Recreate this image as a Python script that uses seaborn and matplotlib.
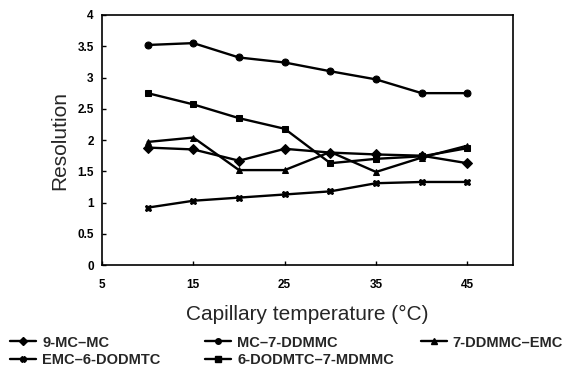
import matplotlib
matplotlib.use("Agg")
import matplotlib.pyplot as plt
import seaborn as sns
import pandas as pd
from matplotlib.lines import Line2D

temperature = [10, 15, 20, 25, 30, 35, 40, 45]
series_names = ["9-MC–MC", "MC–7-DDMMC", "7-DDMMC–EMC", "EMC–6-DODMTC", "6-DODMTC–7-MDMMC"]
mc9_mc = [1.88, 1.85, 1.67, 1.86, 1.80, 1.77, 1.75, 1.63]
mc_7ddmmc = [3.52, 3.55, 3.32, 3.24, 3.10, 2.97, 2.75, 2.75]
ddmmc7_emc = [1.97, 2.04, 1.52, 1.52, 1.81, 1.49, 1.72, 1.91]
emc_6dodmtc = [0.92, 1.03, 1.08, 1.13, 1.18, 1.31, 1.33, 1.33]
dodmtc6_7mdmmc = [2.75, 2.57, 2.35, 2.18, 1.63, 1.70, 1.74, 1.87]
series_values = [mc9_mc, mc_7ddmmc, ddmmc7_emc, emc_6dodmtc, dodmtc6_7mdmmc]
markers = {"9-MC–MC": "D", "MC–7-DDMMC": "o", "7-DDMMC–EMC": "^",
           "EMC–6-DODMTC": "X", "6-DODMTC–7-MDMMC": "s"}

rows = []
for name, vals in zip(series_names, series_values):
    for t, v in zip(temperature, vals):
        rows.append({"Temperature": t, "Resolution": v, "Series": name})
df = pd.DataFrame(rows)

sns.set_theme(style="ticks")
plt.rcParams['font.family'] = ['Liberation Sans', 'DejaVu Sans']

fig = plt.figure(figsize=(5.7, 3.74), dpi=100)
ax = fig.add_axes([0.179, 0.291, 0.721, 0.669])

sns.lineplot(data=df, x="Temperature", y="Resolution", hue="Series",
             style="Series", markers=markers, dashes=False,
             palette=["black"] * 5, ax=ax, legend=False,
             linewidth=1.7, markersize=5, markeredgecolor="black")

ax.set_xlim(5, 50)
ax.set_ylim(0, 4)
ax.set_xticks([5, 15, 25, 35, 45])
ax.set_yticks([0, 0.5, 1, 1.5, 2, 2.5, 3, 3.5, 4])
ax.set_yticklabels(["0", "0.5", "1", "1.5", "2", "2.5", "3", "3.5", "4"])
ax.tick_params(axis="both", labelsize=8.5, width=1, length=3, direction="in", colors="black")
ax.tick_params(axis="x", pad=10)
ax.tick_params(axis="y", pad=6)
for lab in ax.get_xticklabels() + ax.get_yticklabels():
    lab.set_fontweight("bold")
for sp in ax.spines.values():
    sp.set_visible(True)
    sp.set_color("black")
    sp.set_linewidth(1.2)

ax.set_xlabel("Capillary temperature (°C)", fontsize=15, labelpad=10)
ax.set_ylabel("Resolution", fontsize=15, labelpad=6)

def handle(name):
    return Line2D([0], [0], color="black", marker=markers[name], markersize=4,
                  linewidth=1.7)

columns = [
    (["9-MC–MC", "EMC–6-DODMTC"], 0.0),
    (["MC–7-DDMMC", "6-DODMTC–7-MDMMC"], 0.342),
    (["7-DDMMC–EMC"], 0.72),
]
for names, x0 in columns:
    leg = fig.legend([handle(n) for n in names], names, loc="upper left",
                     bbox_to_anchor=(x0, 0.13), frameon=False, fontsize=10.5,
                     handlelength=1.8, handletextpad=0.4, labelspacing=0.25,
                     borderpad=0.2)
    for t in leg.get_texts():
        t.set_fontweight("bold")

fig.savefig("out.png", dpi=100)
